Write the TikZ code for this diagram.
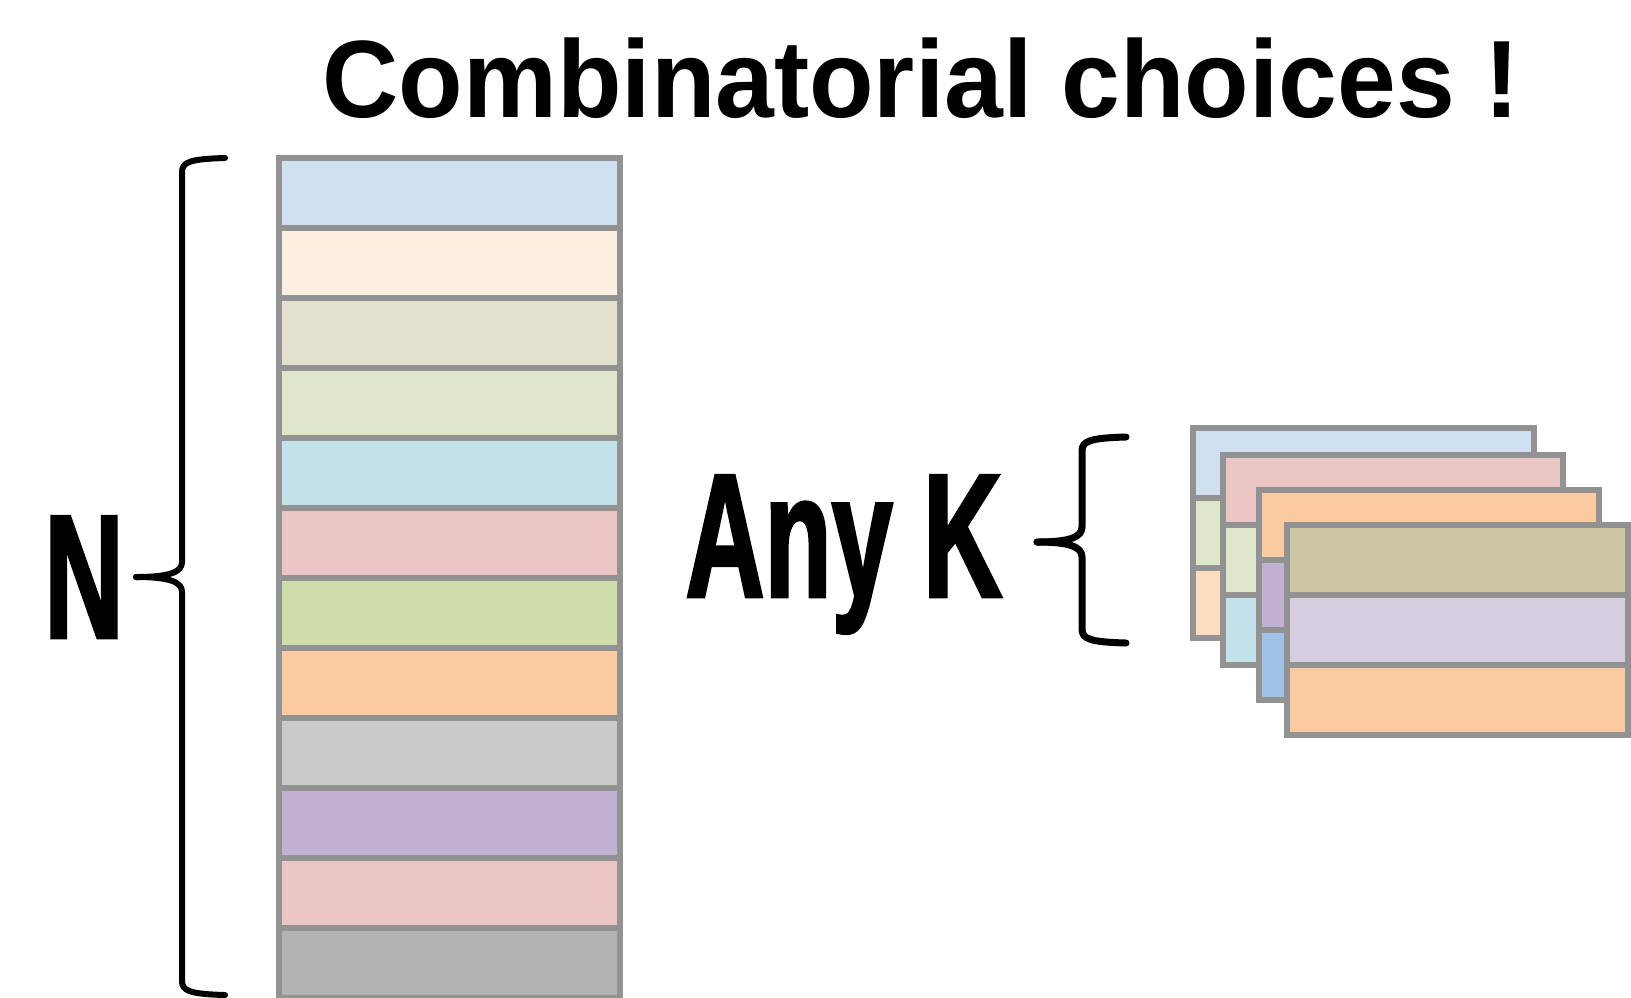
\documentclass[tikz,border=0pt]{standalone}
\usepackage{fontspec}
\usetikzlibrary{shapes,positioning}
\setmainfont{Liberation Sans}
\newfontfamily\condfont[FakeStretch=0.62,FakeBold=1.5]{Liberation Sans}
\newfontfamily\headfont[FakeStretch=0.96]{Liberation Sans}

\definecolor{edgegray}{HTML}{929292}
\definecolor{tintblue}{HTML}{D0E0F1}
\definecolor{tintpeach}{HTML}{FDEEE2}
\definecolor{tintbeige}{HTML}{E3E0CD}
\definecolor{tintleaf}{HTML}{DFE8CB}
\definecolor{tintaqua}{HTML}{C3E3EC}
\definecolor{tintrose}{HTML}{EBC5C4}
\definecolor{tintgreen}{HTML}{CFDDAA}
\definecolor{tintorange}{HTML}{FACBA1}
\definecolor{tintgray}{HTML}{CACACA}
\definecolor{tintlilac}{HTML}{C1B1D3}
\definecolor{tintdark}{HTML}{B3B3B3}
\definecolor{tintapricot}{HTML}{FCDDC0}
\definecolor{tintsky}{HTML}{A0C2E8}
\definecolor{tintkhaki}{HTML}{CEC7A5}
\definecolor{tintmauve}{HTML}{D7CDE1}

\begin{document}
\begin{tikzpicture}[x=0.5pt,y=-0.5pt,
        stack/.style={
                rectangle split, rectangle split parts=#1, draw=edgegray,
                line width=3pt, inner xsep=0pt, inner ysep=0pt, outer sep=0pt,
                rectangle split empty part width=166pt,
                rectangle split empty part height=32pt,
                rectangle split empty part depth=0pt, anchor=north west},
        curly/.style={line width=#1, line cap=round, line join=round},
        bigtext/.style={inner sep=0pt, anchor=base}]

            \useasboundingbox (0,0) rectangle (1631,997);

            \node [stack=12, rectangle split part fill={tintblue,tintpeach,tintbeige,tintleaf,tintaqua,tintrose,tintgreen,tintorange,tintgray,tintlilac,tintrose,tintdark}] (data) at (279,158) {};

            \node [stack=3, rectangle split part fill={tintblue,tintleaf,tintapricot}] (k1) at (1193,427.5) {};
            \node [stack=3, rectangle split part fill={tintrose,tintleaf,tintaqua},
                below right=13.75pt and 14.75pt of k1.north west] (k2) {};
            \node [stack=3, rectangle split part fill={tintorange,tintlilac,tintsky},
                below right=17.5pt and 18pt of k2.north west] (k3) {};
            \node [stack=3, rectangle split part fill={tintkhaki,tintmauve,tintorange},
                below right=17.5pt and 14.25pt of k3.north west] (k4) {};

            \node [bigtext, font=\headfont\bfseries\fontsize{55pt}{60pt}\selectfont] (title) at (921,117) {Combinatorial choices !};
            \node [bigtext, font=\condfont\bfseries\fontsize{88.5pt}{90pt}\selectfont] (n) at (84,638) {N};
            \node [bigtext, anchor=base west, font=\condfont\bfseries\fontsize{88.5pt}{90pt}\selectfont] (anyk) at (685,597) {Any K};

            % brace for N
            \draw [curly=3pt] (225,158) .. controls (190,159) and (182,162) .. (182,172) -- (182,562)
                .. controls (182,572) and (170,577) .. (136,577);
            \draw [curly=3pt] (225,995) .. controls (190,994) and (182,991) .. (182,981) -- (182,592)
                .. controls (182,582) and (170,577) .. (136,577);
            % brace for K
            \draw [curly=3.5pt] (1126,437) .. controls (1090,438) and (1082,441) .. (1082,451) -- (1082,527)
                .. controls (1082,537) and (1070,542) .. (1037,542);
            \draw [curly=3.5pt] (1126,643) .. controls (1090,642) and (1082,639) .. (1082,629) -- (1082,557)
                .. controls (1082,547) and (1070,542) .. (1037,542);

\end{tikzpicture}
\end{document}
